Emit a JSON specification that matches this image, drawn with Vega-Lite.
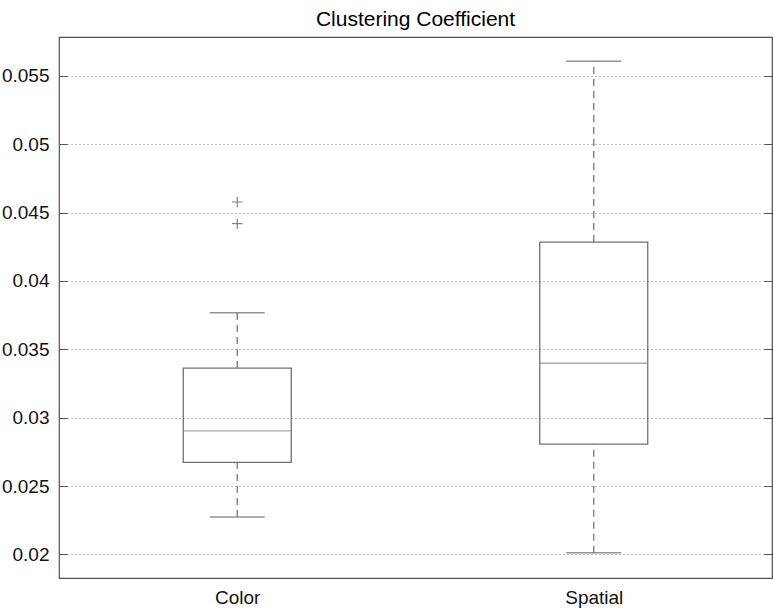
{
  "$schema": "https://vega.github.io/schema/vega-lite/v6.json",
  "width": 713,
  "height": 541,
  "autosize": {"type": "none"},
  "padding": {"left": 59, "top": 37, "right": 2, "bottom": 31},
  "background": "white",
  "title": {"text": "Clustering Coefficient", "fontSize": 21, "fontWeight": "normal", "font": "Liberation Sans", "color": "#000000", "anchor": "middle", "offset": 7},
  "config": {
    "view": {"stroke": "#505050", "strokeWidth": 1.2},
    "axis": {"labelFont": "Liberation Sans", "labelFontSize": 19, "labelColor": "#111111", "title": null}
  },
  "datasets": {
    "stats": [
      {"group": "Color", "lo": 0.02273, "q1": 0.02673, "median": 0.02904, "q3": 0.03363, "hi": 0.03768},
      {"group": "Spatial", "lo": 0.02012, "q1": 0.02807, "median": 0.03398, "q3": 0.04285, "hi": 0.05607}
    ],
    "outliers": [
      {"group": "Color", "value": 0.04578},
      {"group": "Color", "value": 0.04419}
    ]
  },
  "data": {"name": "stats"},
  "encoding": {
    "x": {"field": "group", "type": "nominal", "scale": {"type": "point", "padding": 0.5, "domain": ["Color", "Spatial"]},
      "axis": {"ticks": false, "domain": false, "labelAngle": 0, "labelPadding": 10, "grid": false}}
  },
  "layer": [
    {
      "mark": {"type": "rule", "strokeWidth": 0},
      "encoding": {
        "y": {"field": "median", "type": "quantitative", "scale": {"domain": [0.01827, 0.05785], "nice": false, "zero": false},
          "axis": {"orient": "left", "values": [0.02, 0.025, 0.03, 0.035, 0.04, 0.045, 0.05, 0.055], "labelExpr": "format(datum.value, '~g')",
            "tickSize": -8, "tickColor": "#505050", "labelPadding": 18, "domain": false,
            "grid": true, "gridColor": "#777777", "gridDash": [1, 3], "gridWidth": 1}}
      }
    },
    {
      "mark": {"type": "rule", "strokeWidth": 0},
      "encoding": {
        "y": {"field": "median", "type": "quantitative",
          "axis": {"orient": "right", "values": [0.02, 0.025, 0.03, 0.035, 0.04, 0.045, 0.05, 0.055], "labels": false,
            "tickSize": -8, "tickColor": "#505050", "domain": false, "grid": false}}
      }
    },
    {
      "mark": {"type": "rule", "color": "#777777", "strokeWidth": 1.3, "strokeDash": [7, 5]},
      "encoding": {
        "y": {"field": "lo", "type": "quantitative", "axis": null},
        "y2": {"field": "q1"}
      }
    },
    {
      "mark": {"type": "rule", "color": "#777777", "strokeWidth": 1.3, "strokeDash": [7, 5]},
      "encoding": {
        "y": {"field": "q3", "type": "quantitative", "axis": null},
        "y2": {"field": "hi"}
      }
    },
    {
      "mark": {"type": "bar", "fill": "transparent", "stroke": "#707070", "strokeWidth": 1.3, "size": 108},
      "encoding": {
        "y": {"field": "q1", "type": "quantitative", "axis": null},
        "y2": {"field": "q3"}
      }
    },
    {
      "mark": {"type": "tick", "color": "#8a8a8a", "thickness": 1.3, "size": 108, "orient": "horizontal"},
      "encoding": {
        "y": {"field": "median", "type": "quantitative", "axis": null}
      }
    },
    {
      "mark": {"type": "tick", "color": "#666666", "thickness": 1.5, "size": 55, "orient": "horizontal"},
      "encoding": {
        "y": {"field": "lo", "type": "quantitative", "axis": null}
      }
    },
    {
      "mark": {"type": "tick", "color": "#666666", "thickness": 1.5, "size": 55, "orient": "horizontal"},
      "encoding": {
        "y": {"field": "hi", "type": "quantitative", "axis": null}
      }
    },
    {
      "data": {"name": "outliers"},
      "mark": {"type": "point", "shape": "M-1,0L1,0M0,-1L0,1", "filled": false, "stroke": "#808080", "strokeWidth": 1.2, "size": 110, "opacity": 1},
      "encoding": {
        "y": {"field": "value", "type": "quantitative", "axis": null}
      }
    }
  ],
  "resolve": {"axis": {"y": "independent"}}
}
